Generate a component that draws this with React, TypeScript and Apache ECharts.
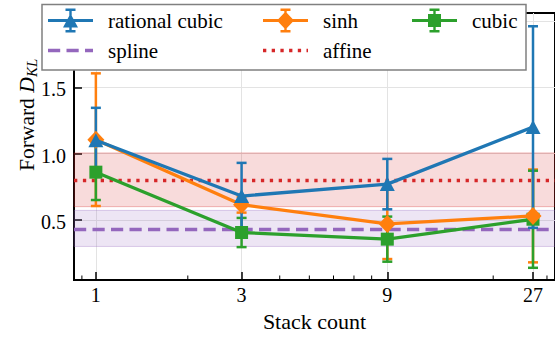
import React, { useEffect, useRef } from "react";
import * as echarts from "echarts";

// Stack counts on a base-3 log axis
const stackCounts = [1, 3, 9, 27];
const xTicks = [1, 3, 9, 27];
const xMinorTicks = [0.9, 2, 4, 5, 6, 7, 8, 20, 30];
const yTicks = [0.5, 1.0, 1.5, 2.0];

// Forward KL (mean and error) per flow
const rationalCubicMean = [1.1, 0.68, 0.77, 1.2];
const rationalCubicErr = [0.245, 0.25, 0.19, 0.76];
const sinhMean = [1.105, 0.615, 0.47, 0.53];
const sinhErr = [0.5, 0.06, 0.265, 0.35];
const cubicMean = [0.86, 0.405, 0.355, 0.505];
const cubicErr = [0.21, 0.11, 0.17, 0.366];

// Baselines (mean and spread), constant over stack count
const splineMean = 0.435;
const splineSpread = [0.3, 0.572];
const affineMean = 0.8;
const affineSpread = [0.6, 1.005];

// legend entries, column by column
const legendColumns = [
  ["rational cubic", "spline"],
  ["sinh", "affine"],
  ["cubic"],
];

const X_MIN = 0.848;
const X_MAX = 31.87;
const Y_MIN = 0.047;
const Y_MAX = 2.06;

const BLUE = "#1f77b4";
const ORANGE = "#ff7f0e";
const GREEN = "#2ca02c";
const RED = "#d62728";
const PURPLE = "#9467bd";
const SERIF = "Liberation Serif";

// legend handles: line + marker + error bar in a 45x24 box
const FRAME = "M0 0 L0.01 0 L0 0.01 Z M45 24 L44.99 24 L45 23.99 Z";
const LINE = "M0 10.5 H45 V13.5 H0 Z";
const BAR = "M21.3 1 H23.7 V23 H21.3 Z M17.5 0 H27.5 V2.4 H17.5 Z M17.5 21.6 H27.5 V24 H17.5 Z";
const ICONS: Record<string, string> = {
  "rational cubic": "path://" + FRAME + " " + LINE + " " + BAR + " M15 19 L22.5 5 L30 19 Z",
  sinh: "path://" + FRAME + " " + LINE + " " + BAR + " M22.5 3 L31 12 L22.5 21 L14 12 Z",
  cubic: "path://" + FRAME + " " + LINE + " " + BAR + " M16 5.5 H29 V18.5 H16 Z",
  spline:
    "path://" + FRAME + " M0 10.35 H12.2 V13.65 H0 Z M18.5 10.35 H30.7 V13.65 H18.5 Z M37 10.35 H45 V13.65 H37 Z",
  affine:
    "path://" +
    FRAME +
    " M0 10.35 H3.3 V13.65 H0 Z M8.7 10.35 H12 V13.65 H8.7 Z M17.4 10.35 H20.7 V13.65 H17.4 Z M26.1 10.35 H29.4 V13.65 H26.1 Z M34.8 10.35 H38.1 V13.65 H34.8 Z M43.5 10.35 H45 V13.65 H43.5 Z",
};

// legend layout
const LEGEND_COL_X = [48, 263, 412];
const LEGEND_TOP = 8.5;
const LEGEND_ROW = 30;

const errorBars = (color: string) => (params: any, api: any) => {
  const x = api.value(0);
  const lo = api.coord([x, api.value(1)]);
  const hi = api.coord([x, api.value(2)]);
  const cap = 5;
  const style = { stroke: color, lineWidth: 2.5 };
  return {
    type: "group",
    children: [
      { type: "line", shape: { x1: lo[0], y1: lo[1], x2: hi[0], y2: hi[1] }, style },
      { type: "line", shape: { x1: lo[0] - cap, y1: lo[1], x2: lo[0] + cap, y2: lo[1] }, style },
      { type: "line", shape: { x1: hi[0] - cap, y1: hi[1], x2: hi[0] + cap, y2: hi[1] }, style },
    ],
  };
};

const barData = (mean: number[], err: number[]) =>
  stackCounts.map((x, i) => [x, mean[i] - err[i], mean[i] + err[i]]);

const lineData = (mean: number[]) => stackCounts.map((x, i) => [x, mean[i]]);

export default function App() {
  const ref = useRef<HTMLDivElement>(null);

  useEffect(() => {
    if (!ref.current) return;
    const chart = echarts.init(ref.current, undefined, { renderer: "svg" });

    const legends = legendColumns.map((names, c) => ({
      orient: "vertical",
      left: LEGEND_COL_X[c],
      top: LEGEND_TOP,
      itemWidth: 45,
      itemHeight: 24,
      itemGap: LEGEND_ROW - 24,
      padding: 0,
      selectedMode: false,
      z: 11,
      formatter: () => "",
      itemStyle: { borderWidth: 0 },
      data: names.map((name) => ({ name, icon: ICONS[name] })),
    }));

    const legendLabels = legendColumns.flatMap((names, c) =>
      names.map((name, r) => ({
        type: "text",
        z: 12,
        x: LEGEND_COL_X[c] + 60,
        y: LEGEND_TOP + 12 + r * LEGEND_ROW,
        style: {
          text: name,
          fontFamily: SERIF,
          fontSize: 21,
          fill: "#000",
          align: "left",
          verticalAlign: "middle",
        },
      }))
    );

    chart.setOption({
      animation: false,
      textStyle: { fontFamily: SERIF, color: "#000" },
      grid: {
        left: 74,
        right: -1,
        top: 13,
        bottom: 53,
        show: true,
        borderColor: "#000",
        borderWidth: 2,
        backgroundColor: "transparent",
      },
      legend: legends,
      xAxis: {
        type: "log",
        logBase: 3,
        min: X_MIN,
        max: X_MAX,
        name: "Stack count",
        nameLocation: "middle",
        nameGap: 30,
        nameTextStyle: { fontFamily: SERIF, fontSize: 22, color: "#000" },
        axisLine: { show: true, lineStyle: { color: "#000", width: 2 } },
        axisTick: { show: true, inside: true, length: 8, lineStyle: { color: "#000", width: 1.5 } },
        axisLabel: {
          showMinLabel: false,
          showMaxLabel: false,
          margin: 5,
          fontFamily: SERIF,
          fontSize: 20,
          color: "#000",
          formatter: (v: number) => {
            const r = Math.round(v);
            return Math.abs(v - r) < 1e-6 && xTicks.includes(r) ? String(r) : "";
          },
        },
        splitLine: { show: true, lineStyle: { color: "#e3e3e3", width: 1 } },
      },
      yAxis: {
        type: "value",
        min: Y_MIN,
        max: Y_MAX,
        axisLine: { show: true, lineStyle: { color: "#000", width: 2 } },
        axisTick: {
          show: true,
          inside: true,
          length: 8,
          lineStyle: { color: "#000", width: 1.5 },
          customValues: yTicks,
        },
        axisLabel: {
          customValues: yTicks,
          margin: 8,
          fontFamily: SERIF,
          fontSize: 20,
          color: "#000",
          formatter: (v: number) => "{t|" + v.toFixed(1) + "}",
          rich: { t: { fontFamily: SERIF, fontSize: 20, color: "#000", padding: [4, 0, 0, 0] } },
        },
        splitLine: { show: true, lineStyle: { color: "#e3e3e3", width: 1 } },
      },
      graphic: [
        {
          type: "rect",
          z: 10,
          shape: { x: 42, y: 4.5, width: 484, height: 65.5 },
          style: { fill: "#fff", stroke: "#808080", lineWidth: 1.5 },
        },
        ...legendLabels,
        {
          type: "text",
          x: 27,
          y: 171,
          rotation: Math.PI / 2,
          style: {
            text: "Forward ",
            fontFamily: SERIF,
            fontSize: 21.5,
            fill: "#000",
            align: "left",
            verticalAlign: "middle",
          },
        },
        {
          type: "text",
          x: 27,
          y: 92.8,
          rotation: Math.PI / 2,
          style: {
            text: "D",
            fontFamily: SERIF,
            fontStyle: "italic",
            fontSize: 21.5,
            fill: "#000",
            align: "left",
            verticalAlign: "middle",
          },
        },
        {
          type: "text",
          x: 32,
          y: 77,
          rotation: Math.PI / 2,
          style: {
            text: "KL",
            fontFamily: SERIF,
            fontStyle: "italic",
            fontSize: 15,
            fill: "#000",
            align: "left",
            verticalAlign: "middle",
          },
        },
      ],
      series: [
        {
          type: "line",
          name: "spline",
          color: PURPLE,
          data: [],
          z: 1,
          markArea: {
            silent: true,
            z: 1,
            itemStyle: { color: "rgba(148,103,189,0.17)", borderColor: "rgba(148,103,189,0.3)", borderWidth: 1 },
            label: { show: false },
            data: [[{ yAxis: splineSpread[0] }, { yAxis: splineSpread[1] }]],
          },
          markLine: {
            silent: true,
            z: 2,
            symbol: ["none", "none"],
            label: { show: false },
            lineStyle: { color: PURPLE, width: 3.3, type: [12.2, 6.3], cap: "butt" },
            data: [{ yAxis: splineMean }],
          },
        },
        {
          type: "line",
          name: "affine",
          color: RED,
          data: [],
          z: 1,
          markArea: {
            silent: true,
            z: 1,
            itemStyle: { color: "rgba(214,39,40,0.17)", borderColor: "rgba(214,39,40,0.3)", borderWidth: 1 },
            label: { show: false },
            data: [[{ yAxis: affineSpread[0] }, { yAxis: affineSpread[1] }]],
          },
          markLine: {
            silent: true,
            z: 2,
            symbol: ["none", "none"],
            label: { show: false },
            lineStyle: { color: RED, width: 3.3, type: [3.3, 5.6], cap: "butt" },
            data: [{ yAxis: affineMean }],
          },
        },
        // x-axis minor ticks
        {
          type: "custom",
          silent: true,
          z: 3,
          data: xMinorTicks.map((v) => [v, Y_MIN]),
          encode: { x: 0, y: 1 },
          renderItem: (params: any, api: any) => {
            const p = api.coord([api.value(0), api.value(1)]);
            return {
              type: "line",
              shape: { x1: p[0], y1: p[1], x2: p[0], y2: p[1] - 4.5 },
              style: { stroke: "#000", lineWidth: 1 },
            };
          },
        },
        {
          type: "custom",
          silent: true,
          z: 3,
          data: barData(sinhMean, sinhErr),
          encode: { x: 0, y: [1, 2] },
          renderItem: errorBars(ORANGE),
        },
        {
          type: "custom",
          silent: true,
          z: 4,
          data: barData(cubicMean, cubicErr),
          encode: { x: 0, y: [1, 2] },
          renderItem: errorBars(GREEN),
        },
        {
          type: "custom",
          silent: true,
          z: 5,
          data: barData(rationalCubicMean, rationalCubicErr),
          encode: { x: 0, y: [1, 2] },
          renderItem: errorBars(BLUE),
        },
        {
          type: "line",
          name: "cubic",
          color: GREEN,
          z: 6,
          data: lineData(cubicMean),
          symbol: "rect",
          symbolSize: 13,
          lineStyle: { width: 3.3, color: GREEN },
          itemStyle: { color: GREEN },
        },
        {
          type: "line",
          name: "sinh",
          color: ORANGE,
          z: 7,
          data: lineData(sinhMean),
          symbol: "diamond",
          symbolSize: [17, 18],
          lineStyle: { width: 3.3, color: ORANGE },
          itemStyle: { color: ORANGE },
        },
        {
          type: "line",
          name: "rational cubic",
          color: BLUE,
          z: 8,
          data: lineData(rationalCubicMean),
          symbol: "triangle",
          symbolSize: [15, 14],
          lineStyle: { width: 3.3, color: BLUE },
          itemStyle: { color: BLUE },
        },
      ],
    });

    return () => chart.dispose();
  }, []);

  return (
    <div
      ref={ref}
      style={{ position: "fixed", left: 0, top: 0, width: 555, height: 337, background: "#fff" }}
    />
  );
}
